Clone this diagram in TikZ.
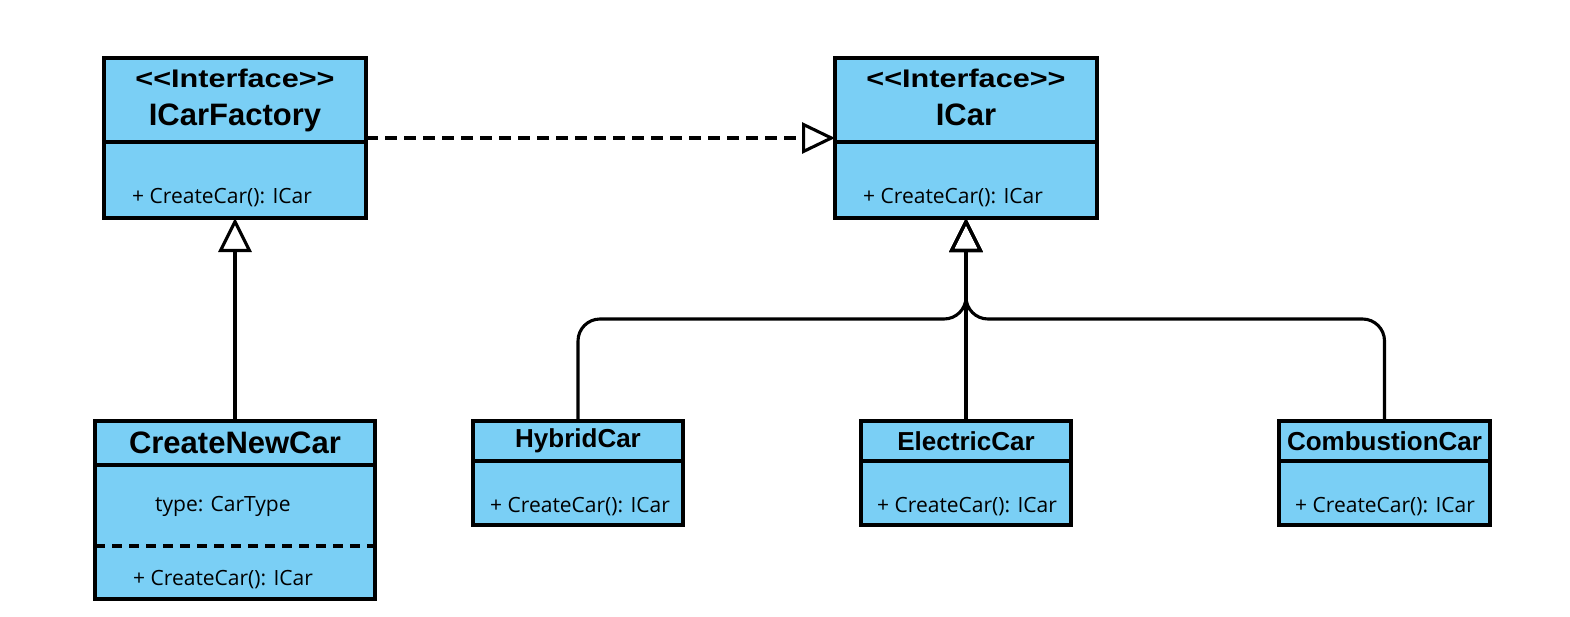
\documentclass[tikz,border=0pt]{standalone}
\usepackage{fontspec}
\setmainfont{Open Sans}
\newfontfamily\titlefont[Ligatures=TeXOff]{Liberation Sans}
\newfontfamily\stereofont[Ligatures=TeXOff,FakeStretch=1.2]{Liberation Sans}
\usetikzlibrary{arrows.meta, positioning}

\definecolor{classblue}{RGB}{122,207,245}
\newcommand{\bigtitle}{\titlefont\bfseries\fontsize{31}{38}\selectfont}
\newcommand{\smalltitle}{\titlefont\bfseries\fontsize{26}{30}\selectfont}
\newcommand{\stereo}{\stereofont\bfseries\fontsize{25.5}{30}\selectfont}
\newcommand{\memberfont}{\fontsize{21}{25}\selectfont}

\begin{document}
\begin{tikzpicture}[
    x=1pt, y=-1pt,
    box/.style={draw, fill=classblue, line width=3.1pt, outer sep=0pt, inner sep=0pt},
    ifacehead/.style={box, anchor=north west, minimum width=262pt, minimum height=84pt, align=center, font=\bigtitle},
    ifacebody/.style={box, minimum width=262pt, minimum height=76pt},
    carhead/.style={box, anchor=north west, minimum width=210pt, minimum height=40pt, font=\smalltitle},
    carbody/.style={box, minimum width=210pt, minimum height=64pt},
    member/.style={anchor=base west, inner sep=0pt, font=\memberfont},
    generalize/.style={line width=3.1pt, line join=miter, -{Triangle[open, length=34pt, width=33pt]}}
]
\useasboundingbox (0,0) rectangle (1570,616);

% interfaces
\node[ifacehead] (factoryhead) at (104,58) {{\stereo <<Interface>>}\\ICarFactory};
\node[ifacebody] (factorybody) [below=0pt of factoryhead] {};
\node[member] (factoryop) at ([shift={(28,-15)}]factorybody.south west) {+ CreateCar(): ICar};

\node[ifacehead] (icarhead) at (835,58) {{\stereo <<Interface>>}\\ICar\rule[-6pt]{0pt}{6pt}};
\node[ifacebody] (icarbody) [below=0pt of icarhead] {};
\node[member] (icarop) at ([shift={(28,-15)}]icarbody.south west) {+ CreateCar(): ICar};

% factory implementation
\node[box, anchor=north west, minimum width=280pt, minimum height=44pt, font=\bigtitle] (newcarhead) at (95,421) {CreateNewCar};
\node[box, minimum width=280pt, minimum height=134pt] (newcarbody) [below=0pt of newcarhead] {};
\draw[line width=3.1pt, dash pattern=on 10pt off 7pt]
    ([yshift=-81pt]newcarbody.north west) -- ([yshift=-81pt]newcarbody.north east);
\node[member] (newcartype) at ([shift={(60,46)}]newcarbody.north west) {type: CarType};
\node[member] (newcarop) at ([shift={(38,-14)}]newcarbody.south west) {+ CreateCar(): ICar};

% cars
\node[carhead] (hybridhead) at (473,421) {HybridCar\rule[-2pt]{0pt}{2pt}};
\node[carbody] (hybridbody) [below=0pt of hybridhead] {};
\node[member] (hybridop) at ([shift={(17,-13)}]hybridbody.south west) {+ CreateCar(): ICar};

\node[carhead] (electrichead) at (861,421) {ElectricCar};
\node[carbody] (electricbody) [below=0pt of electrichead] {};
\node[member] (electricop) at ([shift={(16,-13)}]electricbody.south west) {+ CreateCar(): ICar};

\node[carhead, minimum width=211pt] (combustionhead) at (1279,421) {CombustionCar};
\node[carbody, minimum width=211pt] (combustionbody) [below=0pt of combustionhead] {};
\node[member] (combustionop) at ([shift={(16,-13)}]combustionbody.south west) {+ CreateCar(): ICar};

% connectors
\coordinate (fork) at (966,319);

\draw[line width=3.1pt, dash pattern=on 12pt off 7pt, -{Triangle[open, length=33pt, width=31pt]}]
    ([yshift=4pt]factoryhead.south east) -- ([yshift=4pt]icarhead.south west);

\draw[generalize] (newcarhead.north) -- (factorybody.south);

\draw[generalize, rounded corners=22pt] (hybridhead.north) |- (fork) -- (icarbody.south);
\draw[generalize, rounded corners=22pt] (combustionhead.north) |- (fork) -- (icarbody.south);
\draw[generalize] (electrichead.north) -- (icarbody.south);

\end{tikzpicture}
\end{document}
